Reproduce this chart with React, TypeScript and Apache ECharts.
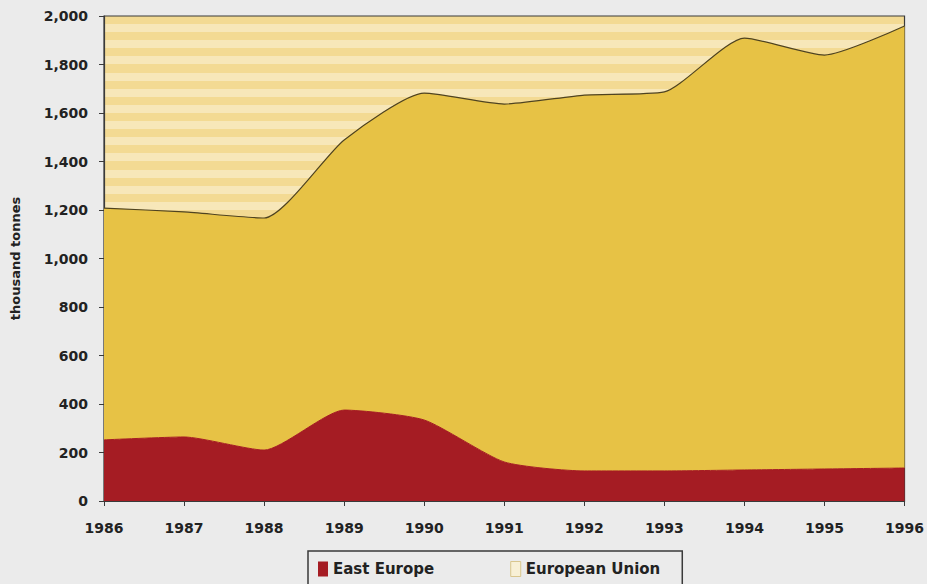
import React, { useEffect, useRef } from "react";
import * as echarts from "echarts";

// Years on the horizontal axis
const years = ["1986", "1987", "1988", "1989", "1990", "1991", "1992", "1993", "1994", "1995", "1996"];

// Thousand tonnes, stacked: East Europe at the bottom, European Union above it
const eastEurope = [252, 264, 210, 375, 334, 161, 124, 124, 128, 132, 136];
const europeanUnion = [956, 928, 957, 1114, 1348, 1476, 1550, 1563, 1781, 1707, 1823];

const yTicks = { min: 0, max: 2000, interval: 200 };

// Soft horizontal banding for the plot background
function stripeGradient(count: number, a: string, b: string) {
  const stops: { offset: number; color: string }[] = [];
  for (let i = 0; i < count; i++) {
    const s = i / count;
    const e = (i + 1) / count;
    const c = i % 2 === 0 ? a : b;
    stops.push({ offset: s, color: c }, { offset: e, color: c });
  }
  return new echarts.graphic.LinearGradient(0, 0, 0, 1, stops);
}

export default function App() {
  const ref = useRef<HTMLDivElement>(null);

  useEffect(() => {
    if (!ref.current) return;
    const chart = echarts.init(ref.current, undefined, { renderer: "svg" });
    const font = "'DejaVu Sans', Arial, sans-serif";
    chart.setOption({
      animation: false,
      backgroundColor: "#ebebeb",
      textStyle: { fontFamily: font },
      grid: {
        left: 104,
        right: 21,
        top: 16,
        bottom: 83,
        show: true,
        borderColor: "#3a3a3a",
        borderWidth: 1.2,
        backgroundColor: stripeGradient(60, "#f3da93", "#f7e7b9"),
      },
      legend: {
        top: 551,
        left: 308,
        icon: "rect",
        itemWidth: 10,
        itemHeight: 15,
        itemGap: 76,
        borderColor: "#3a3a3a",
        borderWidth: 1.5,
        padding: [10, 22, 30, 10],
        textStyle: { fontFamily: font, fontSize: 15, fontWeight: "bold", color: "#222" },
        data: [
          { name: "East Europe", itemStyle: { color: "#a51c23" } },
          {
            name: "European Union",
            itemStyle: { color: "#f8f0d6", borderColor: "#d9c68e", borderWidth: 1 },
          },
        ],
      },
      xAxis: {
        type: "category",
        data: years,
        boundaryGap: false,
        axisLine: { show: true, lineStyle: { color: "#3a3a3a", width: 1.2 } },
        axisTick: { show: true, length: 5, lineStyle: { color: "#3a3a3a" } },
        axisLabel: {
          margin: 20,
          color: "#222",
          fontSize: 14,
          fontWeight: "bold",
          fontFamily: font,
        },
        splitLine: { show: false },
      },
      yAxis: {
        type: "value",
        min: yTicks.min,
        max: yTicks.max,
        interval: yTicks.interval,
        name: "thousand tonnes",
        nameLocation: "middle",
        nameGap: 82,
        nameRotate: 90,
        nameTextStyle: { color: "#222", fontSize: 13, fontWeight: "bold", fontFamily: font },
        axisLine: { show: true, lineStyle: { color: "#3a3a3a", width: 1.2 } },
        axisTick: { show: true, length: 5, lineStyle: { color: "#3a3a3a" } },
        axisLabel: {
          margin: 16,
          color: "#222",
          fontSize: 14,
          fontWeight: "bold",
          fontFamily: font,
          formatter: (v: number) => v.toLocaleString("en-US"),
        },
        splitLine: { show: false },
      },
      series: [
        {
          name: "East Europe",
          type: "line",
          stack: "total",
          data: eastEurope,
          smooth: 0.2,
          symbol: "none",
          lineStyle: { width: 1, color: "#a51c23" },
          itemStyle: { color: "#a51c23" },
          areaStyle: { color: "#a51c23", opacity: 1 },
        },
        {
          name: "European Union",
          type: "line",
          stack: "total",
          data: europeanUnion,
          smooth: 0.2,
          symbol: "none",
          lineStyle: { width: 1.2, color: "#4f4320" },
          itemStyle: { color: "#e7c245" },
          areaStyle: { color: "#e7c245", opacity: 1 },
        },
      ],
    });
    return () => chart.dispose();
  }, []);

  return (
    <div
      ref={ref}
      style={{ position: "fixed", left: 0, top: 0, width: 927, height: 584 }}
    />
  );
}
